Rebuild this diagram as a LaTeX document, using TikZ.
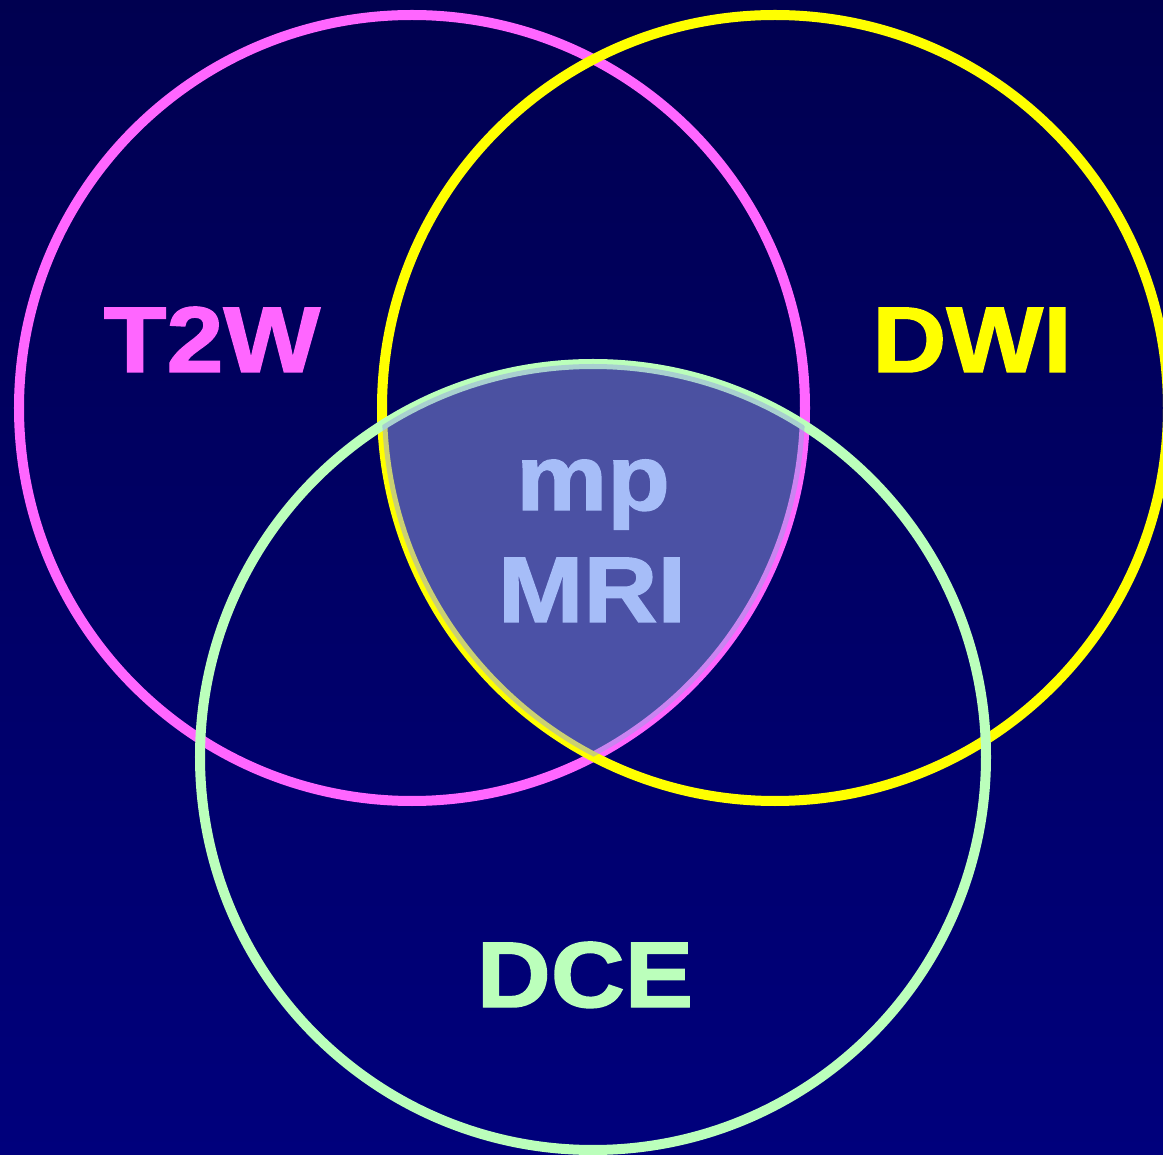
\documentclass[tikz,border=0pt]{standalone}
\usepackage{fontspec}
\usepackage{xcolor}

\newfontfamily\vennfont[FakeStretch=1.1,FakeBold=1.6]{Liberation Sans Bold}

\definecolor{bgtop}{RGB}{0,0,80}
\definecolor{bgbot}{RGB}{0,0,124}
\definecolor{tpink}{RGB}{255,102,255}
\definecolor{dyellow}{RGB}{255,255,0}
\definecolor{cgreen}{RGB}{187,255,187}
\definecolor{mplilac}{RGB}{150,162,228}
\definecolor{mptext}{RGB}{166,189,248}

\begin{document}
\begin{tikzpicture}[x=0.01cm, y=-0.01cm,
          ring/.style={line width=0.1cm},
          vennlabel/.style={font=\vennfont\fontsize{26.5}{30}\selectfont, anchor=base, inner sep=0pt}
        ]
          % Background
          \shade[top color=bgtop, bottom color=bgbot] (0,0) rectangle (1163,1155);
          \useasboundingbox (0,0) rectangle (1163,1155);

          % Circle centres
          \coordinate (t2wc) at (412,408);
          \coordinate (dwic) at (775,408);
          \coordinate (dcec) at (593,757);

          % Circles
          \draw[ring, tpink] (t2wc) circle[radius=393];
          \draw[ring, dyellow] (dwic) circle[radius=393];
          \draw[ring, cgreen] (dcec) circle[radius=393];

          % Common overlap
          \begin{scope}
            \clip (t2wc) circle[radius=393];
            \clip (dwic) circle[radius=393];
            \fill[mplilac, fill opacity=0.5] (dcec) circle[radius=393];
          \end{scope}

          % Labels
          \node[vennlabel, text=tpink] (t2w) at (212,372) {T2W};
          \node[vennlabel, text=dyellow] (dwi) at (972,372) {DWI};
          \node[vennlabel, text=cgreen] (dce) at (585,1007) {DCE};
          \node[vennlabel, text=mptext] (mp) at (593,510) {mp};
          \node[vennlabel, text=mptext] (mri) at (592,622) {MRI};
        \end{tikzpicture}
\end{document}
